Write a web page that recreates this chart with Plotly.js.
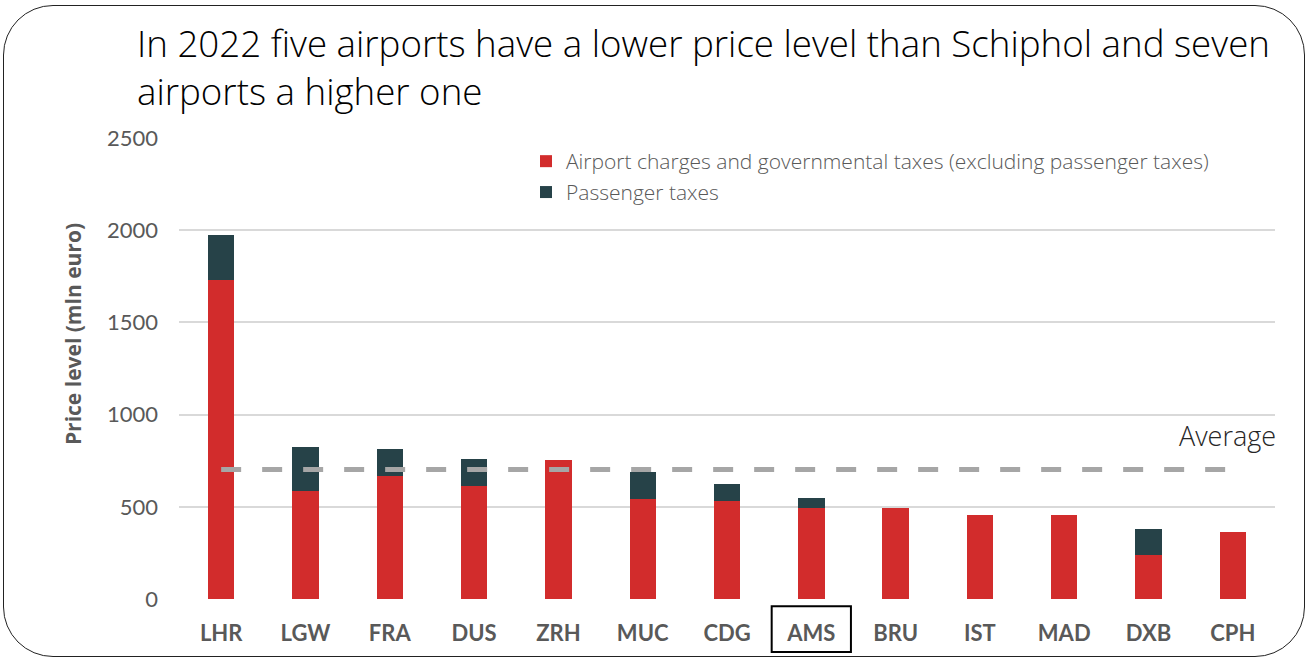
<!DOCTYPE html>
<html>
<head>
<meta charset="utf-8">
<script src="https://cdn.plot.ly/plotly-3.0.1.min.js"></script>
<style>
  html, body { margin: 0; padding: 0; background: #ffffff; }
  #wrap { position: relative; width: 1308px; height: 657px; overflow: hidden; }
  #chart { width: 1308px; height: 657px; }
  #frame { position: absolute; left: 3px; top: 5px; width: 1300px; height: 650px;
           border: 1px solid #222; border-radius: 50px; pointer-events: none; }
</style>
</head>
<body>
<div id="wrap">
  <div id="chart"></div>
  <div id="frame"></div>
</div>
<script>
// ---- data ----
const airports = ["LHR","LGW","FRA","DUS","ZRH","MUC","CDG","AMS","BRU","IST","MAD","DXB","CPH"];
const airportCharges = [1730, 587, 668, 614, 753, 543, 531, 493, 493, 458, 455, 240, 365];
const passengerTaxes = [242, 238, 145, 144, 0, 145, 90, 54, 0, 0, 0, 139, 0];
const averageLevel = 702;
const highlighted = "AMS";
const yTicks = [0, 500, 1000, 1500, 2000, 2500];

const seriesNames = [
  "Airport charges and governmental taxes (excluding passenger taxes)",
  "Passenger taxes"
];
const titleText = "In 2022 five airports have a lower price level than Schiphol and seven<br>airports a higher one";
const yTitleText = "Price level (mln euro)";

const RED = "#D22C2C", DARK = "#264248", GREY = "#595959";
const FONT = "Lato, 'Open Sans', sans-serif";
const FONT2 = "'Open Sans', Lato, sans-serif";

const traces = [
  { type: "bar", x: airports, y: airportCharges, name: seriesNames[0],
    marker: { color: RED }, legend: "legend", hoverinfo: "x+y" },
  { type: "bar", x: airports, y: passengerTaxes, name: seriesNames[1],
    marker: { color: DARK }, legend: "legend2", hoverinfo: "x+y" },
  { type: "scatter", mode: "lines", x: airports, y: airports.map(() => averageLevel),
    name: "Average", showlegend: false,
    line: { color: "#A6A6A6", width: 5, dash: "20px,21px" }, hoverinfo: "y" }
];

const hi = airports.indexOf(highlighted);

const layout = {
  width: 1308, height: 657,
  paper_bgcolor: "rgba(0,0,0,0)", plot_bgcolor: "rgba(0,0,0,0)",
  margin: { l: 179, r: 33, t: 137.5, b: 57.5 },
  barmode: "stack", bargap: 0.687,
  font: { family: FONT, color: GREY },
  title: {
    text: titleText, xref: "container", yref: "container",
    x: 137 / 1308, xanchor: "left", y: 1 - 57 / 657, yanchor: "top",
    font: { family: FONT2, size: 36.7, color: "#000000", weight: 300 }
  },
  xaxis: {
    type: "category", showgrid: false, zeroline: false, showline: false,
    ticks: "", ticklabelstandoff: 19,
    tickfont: { family: FONT, size: 22, color: GREY, weight: 700 }
  },
  yaxis: {
    range: [0, 2500], tickvals: yTicks, showgrid: true, gridcolor: "#D9D9D9", gridwidth: 1.5,
    zeroline: false, showline: false, ticks: "", ticklabelstandoff: 20,
    tickfont: { family: FONT, size: 22, color: GREY }
  },
  showlegend: true,
  legend: {
    x: 0.3166, xanchor: "left", y: 0.949, yanchor: "middle",
    bgcolor: "rgba(0,0,0,0)", itemwidth: 30, itemclick: false, itemdoubleclick: false,
    font: { family: FONT2, size: 21, color: GREY, weight: 300 }
  },
  legend2: {
    x: 0.3166, xanchor: "left", y: 0.882, yanchor: "middle",
    bgcolor: "rgba(0,0,0,0)", itemwidth: 30, itemclick: false, itemdoubleclick: false,
    font: { family: FONT2, size: 21, color: GREY, weight: 300 }
  },
  annotations: [
    { text: "Average", xref: "paper", yref: "paper", x: 1, xanchor: "right", xshift: 3,
      y: 0.354, yanchor: "middle", showarrow: false,
      font: { family: FONT2, size: 27, color: "#262626", weight: 300 } },
    { text: yTitleText, xref: "paper", yref: "paper", x: (73 - 179) / 1096, xanchor: "center",
      y: (599.5 - 334) / 462, yanchor: "middle", textangle: -90, showarrow: false,
      font: { family: FONT2, size: 21, color: GREY, weight: 700 } }
  ],
  shapes: [
    { type: "rect", xref: "x", yref: "paper", x0: hi - 0.47, x1: hi + 0.47,
      y0: -0.1147, y1: -0.0156, line: { color: "#000000", width: 2 }, fillcolor: "rgba(0,0,0,0)" }
  ]
};

Plotly.newPlot("chart", traces, layout, { displayModeBar: false, staticPlot: false });
</script>
</body>
</html>
